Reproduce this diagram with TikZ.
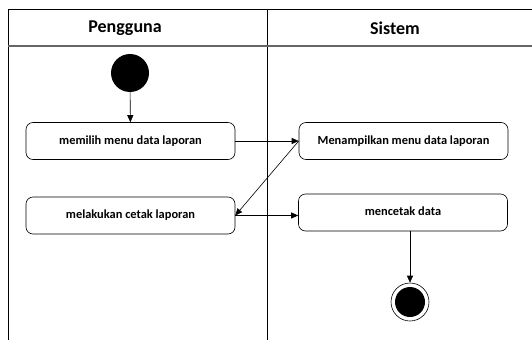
\documentclass[tikz,border=0pt]{standalone}
\usepackage{fontspec}
\setmainfont{Carlito}
\usetikzlibrary{arrows.meta}

\begin{document}
\begin{tikzpicture}[x=1pt,y=-1pt,
    act/.style={draw,semithick,rounded corners=7pt,minimum width=209pt,minimum height=37pt,font=\bfseries\fontsize{12.4}{14}\selectfont},
    lane/.style={font=\bfseries\fontsize{18}{20}\selectfont},
    flow/.style={-{Triangle[length=7pt,width=6pt]},semithick}]
    \useasboundingbox (0,0) rectangle (532,340);
    % swimlanes
    \draw[thick] (8,340) -- (8,9) -- (532,9);
    \draw[thick] (267,9) -- (267,340);
    \draw[gray!80!black,very thick] (8,46) -- (532,46);
    \node[lane] (pengguna) at (125,28) {Pengguna};
    \node[lane] (sistem) at (395,28) {Sistem};
    % actions
    \node[circle,fill,minimum size=38pt,inner sep=0pt] (start) at (130,73) {};
    \node[act] (pilih) at (130.5,141) {memilih menu data laporan};
    \node[act] (tampil) at (403.5,141) {Menampilkan menu data laporan};
    \node[act] (cetak) at (130.5,215.5) {melakukan cetak laporan};
    \node[act,text height=18pt,text depth=12pt] (data) at (403,212.5) {mencetak data};
    \node[circle,draw,semithick,minimum size=38pt,inner sep=0pt] (end) at (410,302) {};
    \node[circle,fill,minimum size=30pt,inner sep=0pt] (endin) at (end) {};
    % flows
    \draw[flow] (start) -- (pilih);
    \draw[flow] (pilih) -- (tampil);
    \draw[flow] (tampil.west) -- (cetak.east);
    \draw[flow] (cetak.east) -- (cetak.east -| data.west);
    \draw[flow] (data.south -| end) -- (end);
\end{tikzpicture}
\end{document}
